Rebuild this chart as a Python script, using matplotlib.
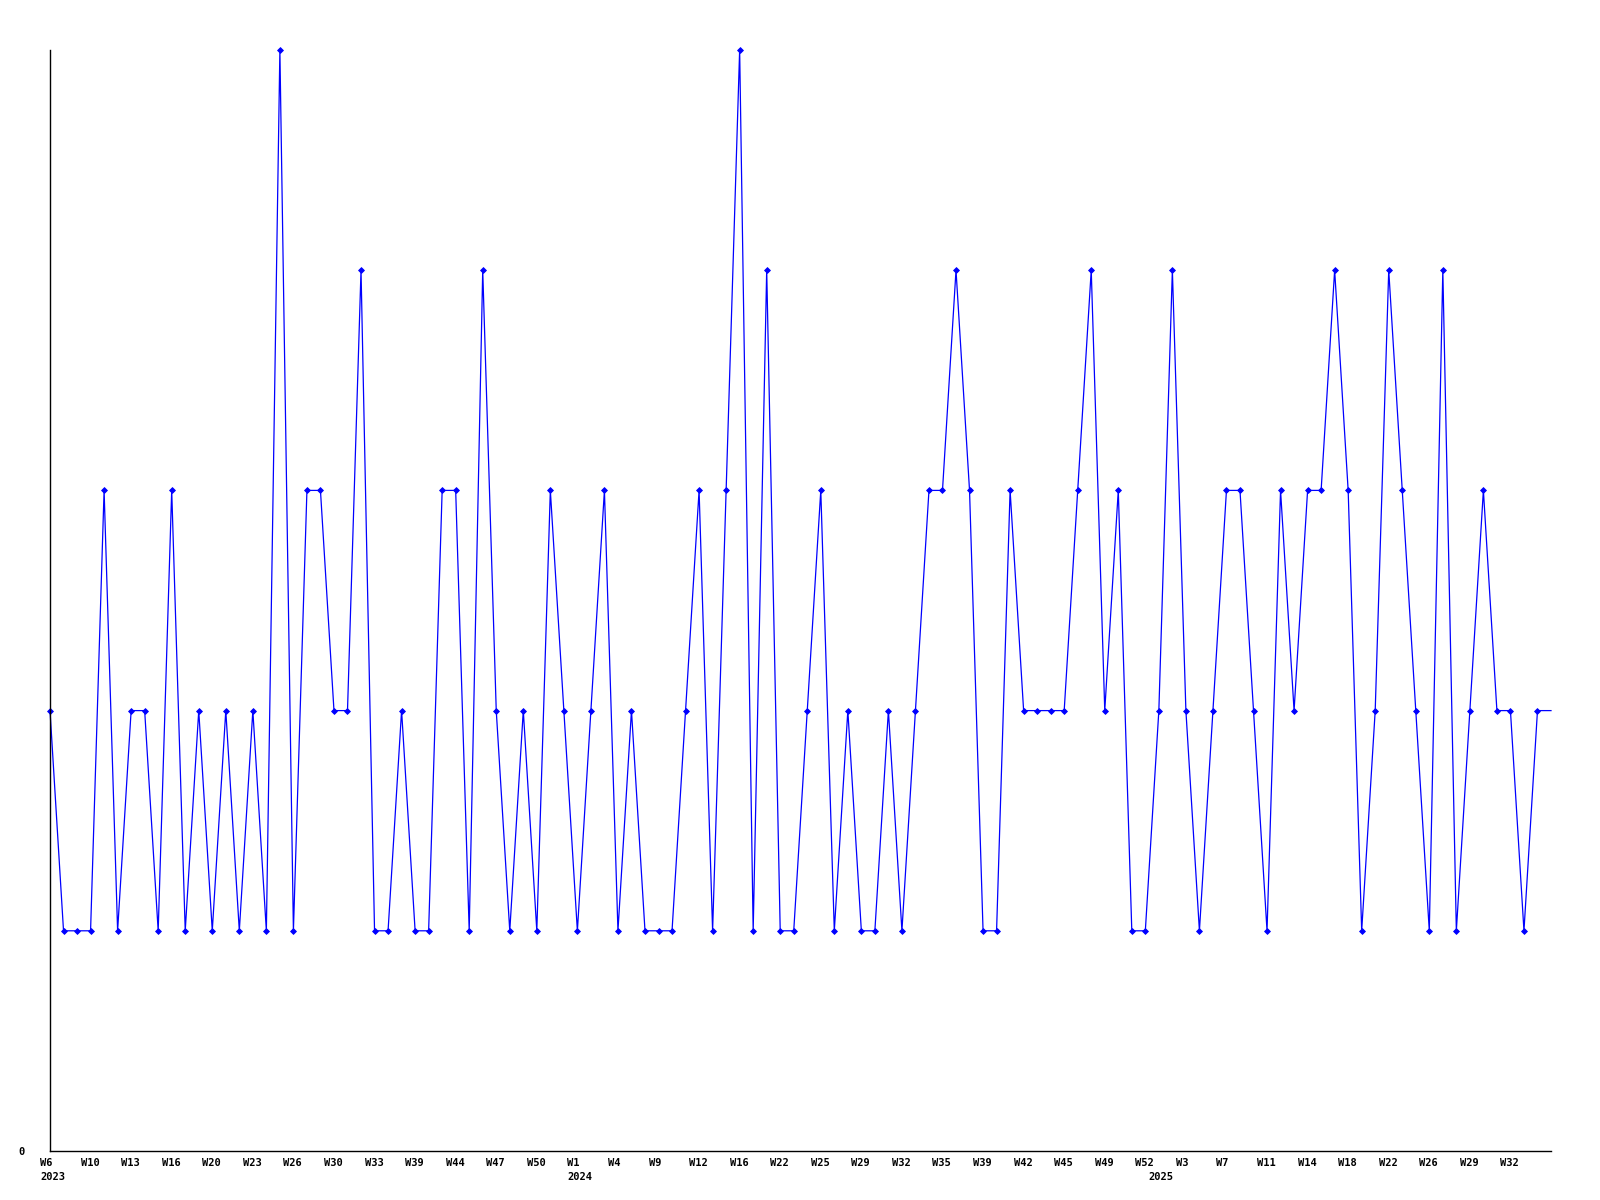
import numpy as np
import matplotlib
matplotlib.use('Agg')
import matplotlib.pyplot as plt
import matplotlib.transforms as mtransforms

# weekly values, one per point
values = [2, 1, 1, 1, 3, 1, 2, 2, 1, 3,
          1, 2, 1, 2, 1, 2, 1, 5, 1, 3,
          3, 2, 2, 4, 1, 1, 2, 1, 1, 3,
          3, 1, 4, 2, 1, 2, 1, 3, 2, 1,
          2, 3, 1, 2, 1, 1, 1, 2, 3, 1,
          3, 5, 1, 4, 1, 1, 2, 3, 1, 2,
          1, 1, 2, 1, 2, 3, 3, 4, 3, 1,
          1, 3, 2, 2, 2, 2, 3, 4, 2, 3,
          1, 1, 2, 4, 2, 1, 2, 3, 3, 2,
          1, 3, 2, 3, 3, 4, 3, 1, 2, 4,
          3, 2, 1, 4, 1, 2, 3, 2, 2, 1,
          2, 2]

# labels shown every 3rd point
week_labels = ['W6', 'W10', 'W13', 'W16', 'W20', 'W23', 'W26', 'W30', 'W33', 'W39',
               'W44', 'W47', 'W50', 'W1', 'W4', 'W9', 'W12', 'W16', 'W22', 'W25',
               'W29', 'W32', 'W35', 'W39', 'W42', 'W45', 'W49', 'W52', 'W3', 'W7',
               'W11', 'W14', 'W18', 'W22', 'W26', 'W29', 'W32']
years = ['2023', '2024', '2025']
year_pos = [0, 39, 82]

x = np.arange(len(values))

fig = plt.figure(figsize=(16, 12), dpi=100)
ax = fig.add_axes([50/1600, 49/1200, 1501/1600, 1101/1200])

ax.plot(x, values, color='#0000ff', lw=0.9, marker='D', ms=3, mew=0.6,
        markevery=list(range(len(values) - 1)), clip_on=False)

ax.set_xlim(0, len(values) - 1)
ax.set_ylim(0, 5)

for s in ['top', 'right']:
    ax.spines[s].set_visible(False)
ax.spines['left'].set_linewidth(1)
ax.spines['bottom'].set_linewidth(1)

font = dict(family='DejaVu Sans Mono', weight='bold', size=7.5)

ax.set_yticks([0])
ax.set_yticklabels(['0'], **font)
ax.tick_params(axis='y', length=0, pad=18)

ax.set_xticks(x[:len(week_labels) * 3:3])
ax.set_xticklabels(week_labels, ha='left', **font)
ax.tick_params(axis='x', length=0, pad=5)
shift = mtransforms.ScaledTranslation(-10/100, 0, fig.dpi_scale_trans)
for lab in ax.get_xticklabels():
    lab.set_transform(lab.get_transform() + shift)

trans = ax.get_xaxis_transform() + mtransforms.ScaledTranslation(-10/100, -21/100, fig.dpi_scale_trans)
for yr, p in zip(years, year_pos):
    ax.text(p, 0, yr, transform=trans, ha='left', va='top', **font)

fig.savefig('out.png', dpi=100)
